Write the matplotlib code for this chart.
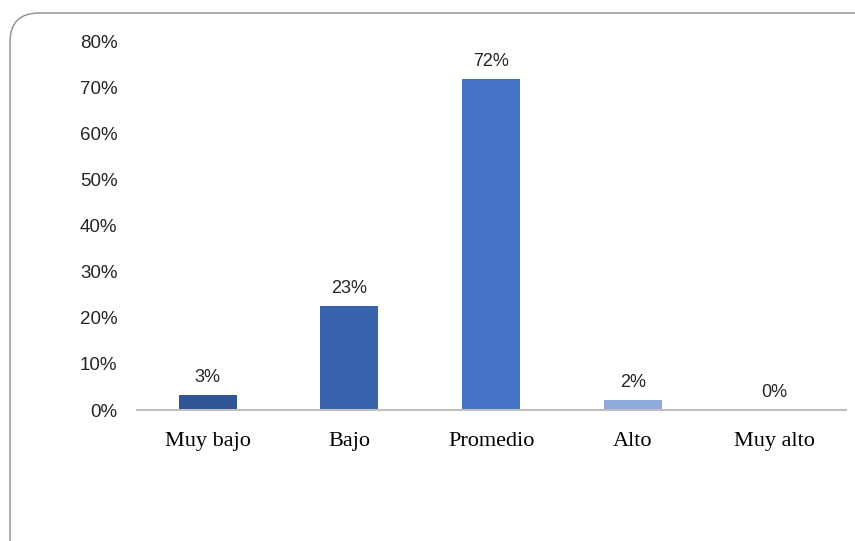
import matplotlib

matplotlib.use("Agg")
import matplotlib.pyplot as plt
from matplotlib.patches import FancyBboxPatch

categories = ["Muy bajo", "Bajo", "Promedio", "Alto", "Muy alto"]
values = [3.2, 22.5, 71.7, 2.2, 0.0]
labels = ["3%", "23%", "72%", "2%", "0%"]
colors = ["#2F5597", "#3A63AE", "#4472C4", "#8FAADC", "#B4C7E7"]
yticks = [0, 10, 20, 30, 40, 50, 60, 70, 80]

fig = plt.figure(figsize=(8.55, 5.41), dpi=100)
ax = fig.add_axes([0.160, 0.2421, 0.829, 0.6821])

x = range(len(categories))
ax.bar(x, values, width=0.41, color=colors)
for xi, v, lab in zip(x, values, labels):
    ax.text(xi, v + 2.0, lab, ha="center", va="bottom",
            fontsize=13, family="Liberation Sans", color="#262626")

ax.set_xlim(-0.5, len(categories) - 0.5)
ax.set_ylim(0, 80)
ax.set_yticks(yticks)
ax.set_yticklabels([f"{t}%" for t in yticks], family="Liberation Sans",
                   fontsize=13.5, color="#262626")
ax.set_xticks(list(x))
ax.set_xticklabels(categories, family="Liberation Serif", fontsize=16,
                   color="black")
ax.tick_params(axis="y", length=0, pad=14)
ax.tick_params(axis="x", length=0, pad=16)
for side in ("top", "right", "left"):
    ax.spines[side].set_visible(False)
ax.spines["bottom"].set_color("#BFBFBF")
ax.spines["bottom"].set_linewidth(1.5)

# rounded chart border (runs off the right and bottom edges)
border = FancyBboxPatch((10 / 855, -0.2), 1.2, 1.2 - 13 / 541,
                        boxstyle="round,pad=0,rounding_size=0.034",
                        transform=fig.transFigure, fill=False,
                        ec="#8C8C8C", lw=1.0, mutation_aspect=855 / 541)
fig.patches.append(border)

fig.savefig("out.png", dpi=100)
